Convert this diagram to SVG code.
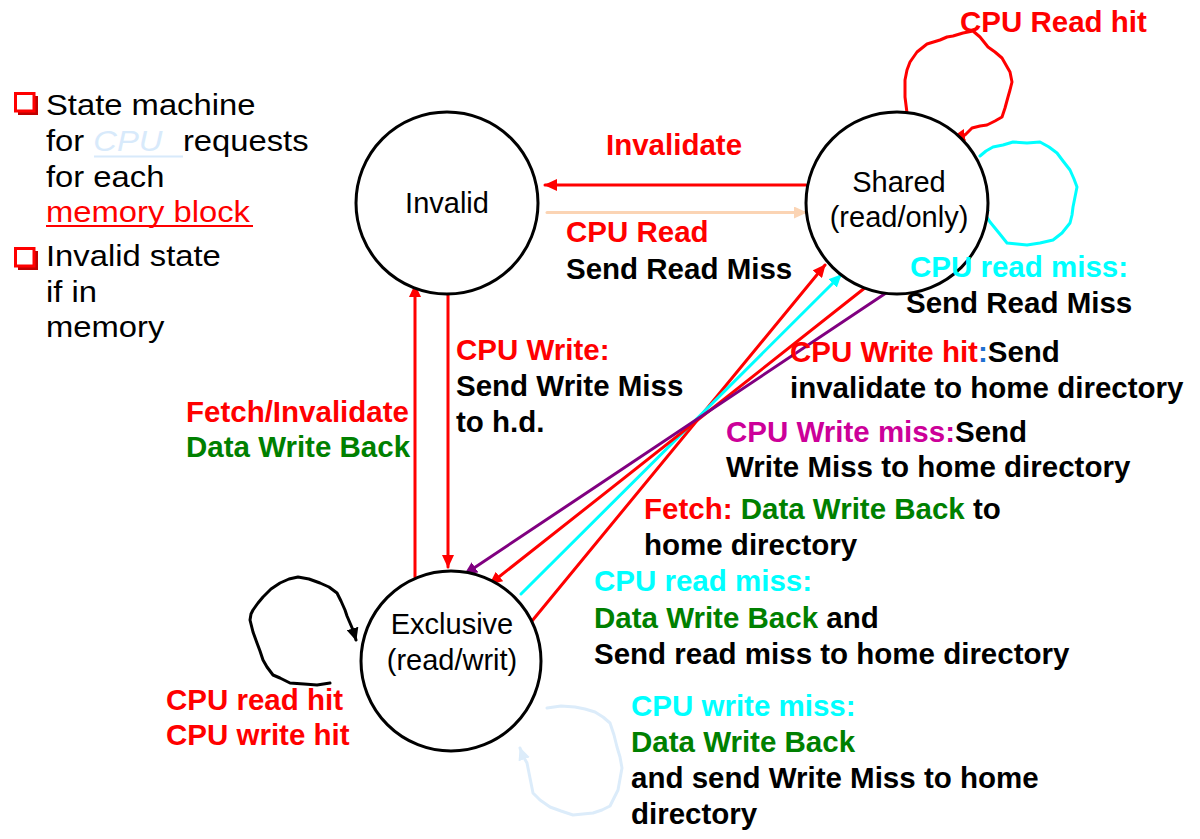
<svg xmlns="http://www.w3.org/2000/svg" width="1200" height="839" viewBox="0 0 1200 839">
<style>
.node{fill:#fff;stroke:#000;stroke-width:3}
.nl{font-family:"Liberation Sans",Arial,sans-serif;font-size:29px;fill:#000;text-anchor:middle}
.t{font-family:"Liberation Sans",Arial,sans-serif;font-size:29.5px;font-weight:bold;fill:#000}
.lt{font-family:"Liberation Sans",Arial,sans-serif;font-size:29px;fill:#000}
.r{fill:#ff0000}.g{fill:#008000}.c{fill:#00ffff}.m{fill:#cc0099}.b{fill:#1f6fd0}
.e{fill:none;stroke-width:3;stroke-linejoin:round;stroke-linecap:round}
</style>
<defs>
<marker id="ar" markerUnits="userSpaceOnUse" markerWidth="14" markerHeight="12" refX="12" refY="6" orient="auto"><path d="M0,0 L13,6 L0,12 Z" fill="#ff0000"/></marker>
<marker id="ac" markerUnits="userSpaceOnUse" markerWidth="14" markerHeight="12" refX="12" refY="6" orient="auto"><path d="M0,0 L13,6 L0,12 Z" fill="#00ffff"/></marker>
<marker id="ap" markerUnits="userSpaceOnUse" markerWidth="14" markerHeight="12" refX="12" refY="6" orient="auto"><path d="M0,0 L13,6 L0,12 Z" fill="#800080"/></marker>
<marker id="ak" markerUnits="userSpaceOnUse" markerWidth="14" markerHeight="12" refX="12" refY="6" orient="auto"><path d="M0,0 L13,6 L0,12 Z" fill="#000"/></marker>
<marker id="af" markerUnits="userSpaceOnUse" markerWidth="14" markerHeight="12" refX="12" refY="6" orient="auto"><path d="M0,0 L13,6 L0,12 Z" fill="#fbd4b4"/></marker>
<marker id="al" markerUnits="userSpaceOnUse" markerWidth="14" markerHeight="12" refX="12" refY="6" orient="auto"><path d="M0,0 L13,6 L0,12 Z" fill="#dcecfa"/></marker>
</defs>
<rect width="1200" height="839" fill="#fff"/>

<g id="bullets">
<path d="M18,96 h20 v19 h-20 z" fill="#c00000"/>
<rect x="15.5" y="93.5" width="18.5" height="17.5" fill="#fff" stroke="#ff0000" stroke-width="3"/>
<path d="M18,251 h20 v19 h-20 z" fill="#c00000"/>
<rect x="15.5" y="248.5" width="18.5" height="17.5" fill="#fff" stroke="#ff0000" stroke-width="3"/>
<g transform="translate(46 0) scale(1.13 1)">
<text class="lt" x="0" y="115">State machine</text>
<text class="lt" x="0" y="151">for <tspan font-style="italic" fill="#d8eafb">CPU</tspan><tspan dx="10"> requests</tspan></text>
<text class="lt" x="0" y="187">for each</text>
<text class="lt r" x="0" y="222">memory block</text>
<text class="lt" x="0" y="266">Invalid state</text>
<text class="lt" x="0" y="302">if in</text>
<text class="lt" x="0" y="337">memory</text>
</g>
<line x1="94" y1="156.5" x2="183" y2="156.5" stroke="#d8eafb" stroke-width="2"/>
<line x1="46" y1="226" x2="253" y2="226" stroke="#ff0000" stroke-width="2"/>
</g>

<g id="connectors">
<line class="e" x1="806" y1="185" x2="545" y2="185" stroke="#ff0000" marker-end="url(#ar)"/>
<line class="e" x1="547" y1="212.5" x2="806" y2="212.5" stroke="#fbd4b4" marker-end="url(#af)"/>
<line class="e" x1="448" y1="294" x2="448" y2="567" stroke="#ff0000" marker-end="url(#ar)"/>
<line class="e" x1="415" y1="577" x2="415" y2="285" stroke="#ff0000" marker-end="url(#ar)"/>
<line class="e" x1="532" y1="621" x2="825" y2="265" stroke="#ff0000" marker-end="url(#ar)"/>
<line class="e" x1="521" y1="594" x2="841" y2="275" stroke="#00ffff" marker-end="url(#ac)"/>
<line class="e" x1="866" y1="287" x2="490" y2="584" stroke="#ff0000" marker-end="url(#ar)"/>
<line class="e" x1="889" y1="291" x2="465" y2="574" stroke="#800080" marker-end="url(#ap)"/>
<polyline class="e" stroke="#ff0000" marker-end="url(#ar)" points="907,113 905,97 905,80 907,70 910,62 917,52 927,44 940,40 947,37 953,36 963,33 973,31 980,37 988,47 995,52 1002,58 1006,65 1010,72 1012,82 1010,90 1008,97 1005,108 1002,117 995,121 987,125 980,126 972,128 968,132 965,135 953,137"/>
<polyline class="e" stroke="#00ffff" marker-end="url(#ac)" points="980,156 986,151 993,147 1003,145 1013,142 1027,143 1040,142 1049,147 1057,153 1063,161 1070,170 1074,179 1077,187 1075,197 1073,207 1072,215 1070,223 1062,233 1053,240 1040,243 1027,245 1017,244 1007,243 999,233 990,222 985,214 977,207"/>
<polyline class="e" stroke="#000" marker-end="url(#ak)" points="330,683 317,685 304,684 290,683 280,678 273,675 267,667 263,660 260,651 257,643 253,632 250,620 251,614 253,610 258,603 263,597 271,589 280,583 289,579 298,577 309,579 320,583 329,587 337,593 341,601 345,610 347,616 350,623 353,630 356,640"/>
<polyline class="e" stroke="#dcecfa" marker-end="url(#al)" points="547,708 561,706 575,707 585,709 595,712 603,717 610,723 614,735 617,747 620,757 622,768 620,779 618,790 614,798 610,806 602,810 593,813 583,814 573,815 561,811 550,807 540,800 533,793 530,778 527,763 523,756 520,748"/>
</g>

<g id="invalid">
<circle class="node" cx="447" cy="203" r="91"/>
<text class="nl" x="447" y="213">Invalid</text>
</g>
<g id="shared">
<circle class="node" cx="897" cy="203" r="91"/>
<text class="nl" x="899" y="192">Shared</text>
<text class="nl" x="899" y="227">(read/only)</text>
</g>
<g id="exclusive">
<circle class="node" cx="451" cy="661" r="90"/>
<text class="nl" x="452" y="634">Exclusive</text>
<text class="nl" x="452" y="670">(read/writ)</text>
</g>

<g id="labels">
<text class="t r" x="960" y="32">CPU Read hit</text>
<text class="t r" x="606" y="155">Invalidate</text>
<text class="t r" x="566" y="242">CPU Read</text>
<text class="t" x="566" y="279">Send Read Miss</text>
<text class="t c" x="910" y="277">CPU read miss:</text>
<text class="t" x="906" y="313">Send Read Miss</text>
<text class="t" x="790" y="362"><tspan class="r">CPU Write hit</tspan><tspan class="b">:</tspan>Send</text>
<text class="t" x="790" y="398">invalidate to home directory</text>
<text class="t" x="726" y="442"><tspan class="m">CPU Write miss:</tspan>Send</text>
<text class="t" x="726" y="477">Write Miss to home directory</text>
<text class="t" x="644" y="519"><tspan class="r">Fetch: </tspan><tspan class="g">Data Write Back</tspan> to</text>
<text class="t" x="644" y="555">home directory</text>
<text class="t c" x="594" y="591">CPU read miss:</text>
<text class="t" x="594" y="628"><tspan class="g">Data Write Back</tspan> and</text>
<text class="t" x="594" y="664">Send read miss to home directory</text>
<text class="t c" x="631" y="716">CPU write miss:</text>
<text class="t g" x="631" y="752">Data Write Back</text>
<text class="t" x="631" y="788">and send Write Miss to home</text>
<text class="t" x="631" y="824">directory</text>
<text class="t r" x="456" y="360">CPU Write:</text>
<text class="t" x="456" y="396">Send Write Miss</text>
<text class="t" x="456" y="432">to h.d.</text>
<text class="t r" x="186" y="422">Fetch/Invalidate</text>
<text class="t g" x="186" y="457">Data Write Back</text>
<text class="t r" x="166" y="710">CPU read hit</text>
<text class="t r" x="166" y="745">CPU write hit</text>
</g>
</svg>
